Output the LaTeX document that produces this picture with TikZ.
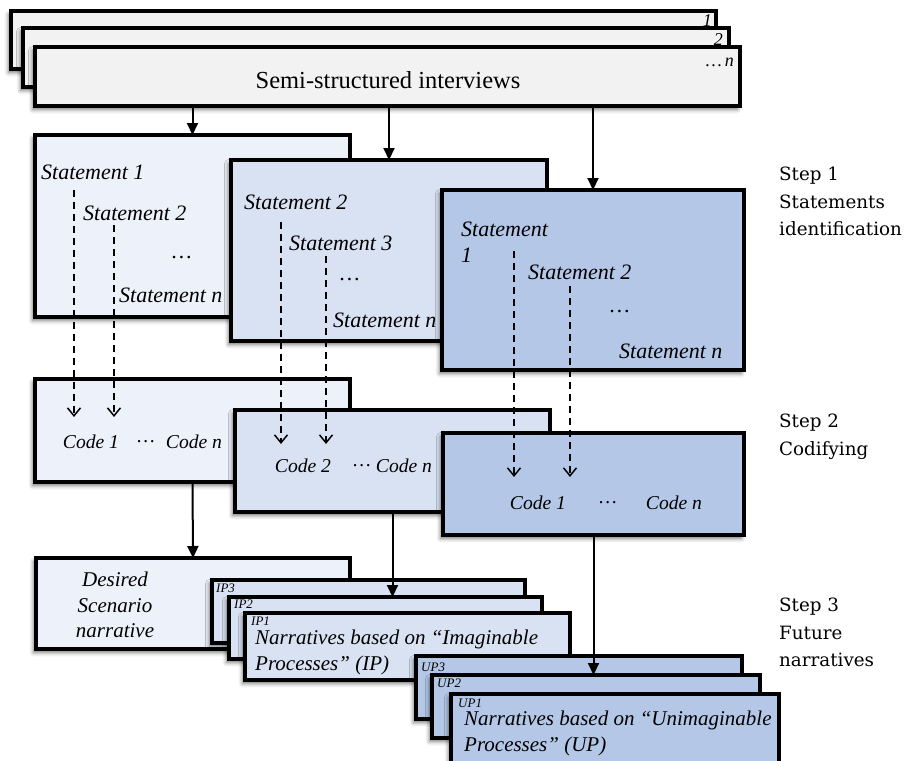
\documentclass[tikz,border=0pt]{standalone}
\usepackage{fontspec}
\setmainfont{Liberation Serif}
\newfontfamily\captionfont{DejaVu Serif}
\usetikzlibrary{arrows.meta,shadows.blur}

\definecolor{cardgray}{HTML}{F2F2F2}
\definecolor{paleblue}{HTML}{EDF1F9}
\definecolor{midblue}{HTML}{D9E2F3}
\definecolor{deepblue}{HTML}{B4C7E7}

% panel: name, fill, x1, y1, x2, y2 (top-left / bottom-right corners)
\newcommand\drawpanel[6]{%
  \node[panel, fill=#2, minimum width={#5-#3}, minimum height={#6-#4}] (#1) at (#3,#4) {};}

\begin{document}
\begin{tikzpicture}[x=1pt,y=-1pt,
  panel/.style={draw=black, line width=3.1pt, anchor=north west, inner sep=0pt, outer sep=0pt,
    blur shadow={shadow xshift=-2.5pt, shadow yshift=-3.5pt, shadow blur radius=4pt, shadow opacity=55}},
  stmt/.style={font=\fontsize{22}{26}\selectfont\itshape, inner sep=0pt, anchor=west},
  codetxt/.style={font=\fontsize{19.6}{23}\selectfont\itshape, inner sep=0pt},
  tag/.style={font=\fontsize{13}{15}\selectfont\itshape, inner sep=0pt, anchor=west},
  cardtag/.style={font=\fontsize{18}{21}\selectfont\itshape, inner sep=0pt, anchor=east},
  narr/.style={font=\fontsize{21}{26}\selectfont\itshape, inner sep=0pt, align=left, anchor=north west},
  steptxt/.style={font=\captionfont\fontsize{18.3}{27.5}\selectfont, inner sep=0pt, align=left, anchor=north west},
  link/.style={line width=2pt, -{Triangle[length=12pt,width=11pt]}},
  flow/.style={line width=1.5pt, dash pattern=on 7pt off 5pt, -{Straight Barb[length=8pt,width=13pt]}}
]
\useasboundingbox (0,0) rectangle (915,760);
\clip (0,0) rectangle (915,760);

% interview cards
\drawpanel{cardA}{cardgray}{11}{11}{716}{69}
\node[cardtag] (tagA) at (712,21) {1};
\drawpanel{cardB}{cardgray}{23}{28}{729}{87}
\node[cardtag] (tagB) at (723,40) {2};
\drawpanel{cardC}{cardgray}{35}{47}{740}{106}
\node[cardtag] (tagC) at (734,62) {…\,n};
\node[font=\fontsize{24.5}{28}\selectfont, inner sep=0pt] (interviews) at (388,80) {Semi-structured interviews};

% step 1: statements
\drawpanel{stA}{paleblue}{35}{135}{350}{317}
\node[stmt] (stA1) at (41,172) {Statement 1};
\node[stmt] (stA2) at (83,213) {Statement 2};
\node[stmt, anchor=center] (stA3) at (182,258) {…};
\node[stmt] (stA4) at (119,295) {Statement n};

\drawpanel{stB}{midblue}{231}{160}{547}{341}
\node[stmt] (stB1) at (244,202) {Statement 2};
\node[stmt] (stB2) at (289,243) {Statement 3};
\node[stmt, anchor=center] (stB3) at (350,280) {…};
\node[stmt] (stB4) at (333,320) {Statement n};

\drawpanel{stC}{deepblue}{442}{190}{744}{370}
\node[stmt, align=left, anchor=north west, font=\fontsize{22}{26}\selectfont\itshape] (stC1) at (461,222) {Statement\\1};
\node[stmt] (stC2) at (528,272) {Statement 2};
\node[stmt, anchor=center] (stC3) at (620,312) {…};
\node[stmt] (stC4) at (619,351) {Statement n};

\draw[link] (cardC.south -| stA.north) -- (stA.north);
\draw[link] (cardC.south -| stB.north) -- (stB.north);
\draw[link] (cardC.south -| stC.north) -- (stC.north);

% step 2: codes
\drawpanel{cdA}{paleblue}{35}{379}{350}{482}
\node[codetxt] (cdA1) at (91,442) {Code 1};
\node[codetxt] (cdA2) at (146,442) {…};
\node[codetxt] (cdA3) at (194,442) {Code n};

\drawpanel{cdB}{midblue}{235}{410}{550}{512}
\node[codetxt] (cdB1) at (303,466) {Code 2};
\node[codetxt] (cdB2) at (362,466) {…};
\node[codetxt] (cdB3) at (404,466) {Code n};

\drawpanel{cdC}{deepblue}{443}{433}{744}{535}
\node[codetxt] (cdC1) at (538,503) {Code 1};
\node[codetxt] (cdC2) at (608,503) {…};
\node[codetxt] (cdC3) at (674,503) {Code n};

% statements flowing into codes
\coordinate (fA1s) at (74,190);  \coordinate (fA1e) at (74,417);
\coordinate (fA2s) at (114,225); \coordinate (fA2e) at (114,417);
\coordinate (fB1s) at (281,222); \coordinate (fB1e) at (281,444);
\coordinate (fB2s) at (326,256); \coordinate (fB2e) at (326,444);
\coordinate (fC1s) at (514,251); \coordinate (fC1e) at (514,477);
\coordinate (fC2s) at (570,286); \coordinate (fC2e) at (570,477);
\foreach \f in {A1,A2,B1,B2,C1,C2} \draw[flow] (f\f s) -- (f\f e);

% step 3: narratives
\drawpanel{desired}{paleblue}{36}{558}{350}{649}
\node[font=\fontsize{21}{25.5}\selectfont\itshape, align=center, inner sep=0pt] (desiredtxt) at (115,605) {Desired\\Scenario\\narrative};
\draw[link] (cdA.south) -- (desired.north);

\drawpanel{ipC}{midblue}{212}{580}{525}{643}
\node[tag] (ipCt) at (216,588) {IP3};
\drawpanel{ipB}{midblue}{229}{597}{542}{659}
\node[tag] (ipBt) at (234,604) {IP2};
\drawpanel{ipA}{midblue}{245}{613}{570}{680}
\node[tag] (ipAt) at (251,621) {IP1};
\node[narr] (ipAtxt) at (255,630) {Narratives based on “Imaginable\\Processes” (IP)};
\draw[link] (cdB.south) -- (cdB.south |- ipB.north);

\drawpanel{upC}{deepblue}{416}{656}{742}{719}
\node[tag] (upCt) at (421,667) {UP3};
\drawpanel{upB}{deepblue}{432}{675}{760}{738}
\node[tag] (upBt) at (437,683) {UP2};
\drawpanel{upA}{deepblue}{451}{694}{779}{800}
\node[tag] (upAt) at (458,703) {UP1};
\node[narr] (upAtxt) at (464,711) {Narratives based on “Unimaginable\\Processes” (UP)};
\draw[link] (cdC.south) -- (cdC.south |- upB.north);

% step captions
\node[steptxt] (step1) at (779,167) {Step 1\\Statements\\identification};
\node[steptxt] (step2) at (779,414) {Step 2\\Codifying};
\node[steptxt] (step3) at (779,598) {Step 3\\Future\\narratives};
\end{tikzpicture}
\end{document}
